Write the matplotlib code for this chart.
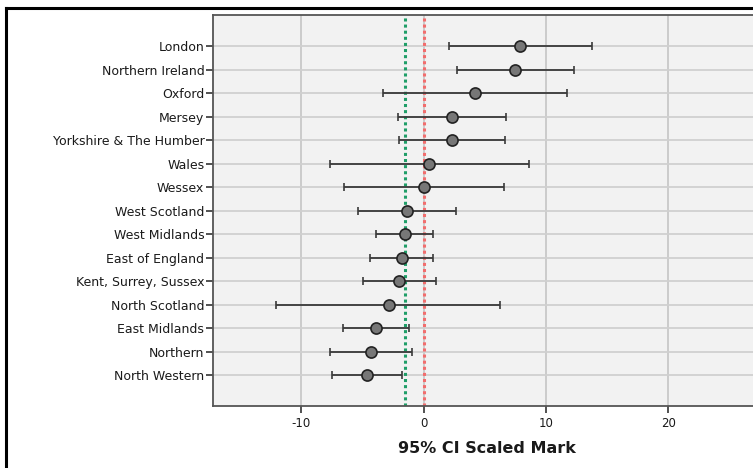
import matplotlib
matplotlib.use("Agg")
import matplotlib.pyplot as plt
from matplotlib.lines import Line2D

categories = ["London", "Northern Ireland", "Oxford", "Mersey", "Yorkshire & The Humber",
              "Wales", "Wessex", "West Scotland", "West Midlands", "East of England",
              "Kent, Surrey, Sussex", "North Scotland", "East Midlands", "Northern", "North Western"]
means = [7.9, 7.5, 4.2, 2.3, 2.3, 0.45, 0.0, -1.35, -1.55, -1.8, -2.0, -2.85, -3.9, -4.3, -4.65]
lower = [2.07, 2.75, -3.3, -2.13, -2.05, -7.67, -6.47, -5.35, -3.88, -4.42, -4.97, -12.06, -6.63, -7.64, -7.5]
upper = [13.77, 12.27, 11.7, 6.73, 6.65, 8.62, 6.54, 2.67, 0.79, 0.79, 0.98, 6.27, -1.18, -0.96, -1.78]
overall_mean = -1.5
zero_ref = 0.0
xticks = [-10, 0, 10, 20]
xlabel = "95% CI Scaled Mark"

W, H = 753, 468
fig = plt.figure(figsize=(W / 100, H / 100), dpi=100)
fig.patch.set_facecolor("white")

left, right, top, bottom = 213.3, 760, 14.5, 406
ax = fig.add_axes([left / W, 1 - bottom / H, (right - left) / W, (bottom - top) / H])
ax.set_facecolor("#f2f2f2")

n = len(categories)
ys = list(range(n - 1, -1, -1))

ax.set_xlim(-17.2, 27.52)
ax.set_ylim(-1.3, n - 1 + 1.34)

# grid
for x in xticks:
    ax.axvline(x, color="#c8c8c8", lw=1.3, zorder=0)
for y in ys:
    ax.axhline(y, color="#d0d0d0", lw=1.3, zorder=0)

ax.axvline(overall_mean, color="#1f9e68", lw=2.2, ls=(0, (1.0, 1.0)), zorder=1)
ax.axvline(zero_ref, color="#f26d6d", lw=2.2, ls=(0, (1.0, 1.0)), zorder=1)

xerr = [[m - lo for m, lo in zip(means, lower)], [hi - m for m, hi in zip(means, upper)]]
ax.errorbar(means, ys, xerr=xerr, fmt="none", ecolor="#3a3a3a", elinewidth=1.3,
            capsize=3, capthick=1.2, zorder=3)
ax.plot(means, ys, "o", ms=8, mfc="#777777", mec="#222222", mew=1.2, zorder=4)

ax.set_yticks(ys)
ax.set_yticklabels(categories, fontsize=9, color="#1a1a1a")
ax.set_xticks(xticks)
ax.set_xticklabels([str(t) for t in xticks], fontsize=8.5, color="#1a1a1a")
ax.tick_params(axis="both", direction="out", length=5, width=1.2, color="#333333", pad=1.5)
ax.tick_params(axis="x", pad=3)
for s in ax.spines.values():
    s.set_color("#555555")
    s.set_linewidth(1.3)

ax.set_xlabel(xlabel, fontsize=11.5, fontweight="bold", color="#1a1a1a", labelpad=8)

# outer frame
fig.add_artist(Line2D([6 / W, 1.01], [1 - 7.5 / H, 1 - 7.5 / H], color="black", lw=2.2,
                      transform=fig.transFigure))
fig.add_artist(Line2D([6 / W, 6 / W], [1 - 7.5 / H, -0.01], color="black", lw=2.2,
                      transform=fig.transFigure))

fig.savefig("out.png", dpi=100)
